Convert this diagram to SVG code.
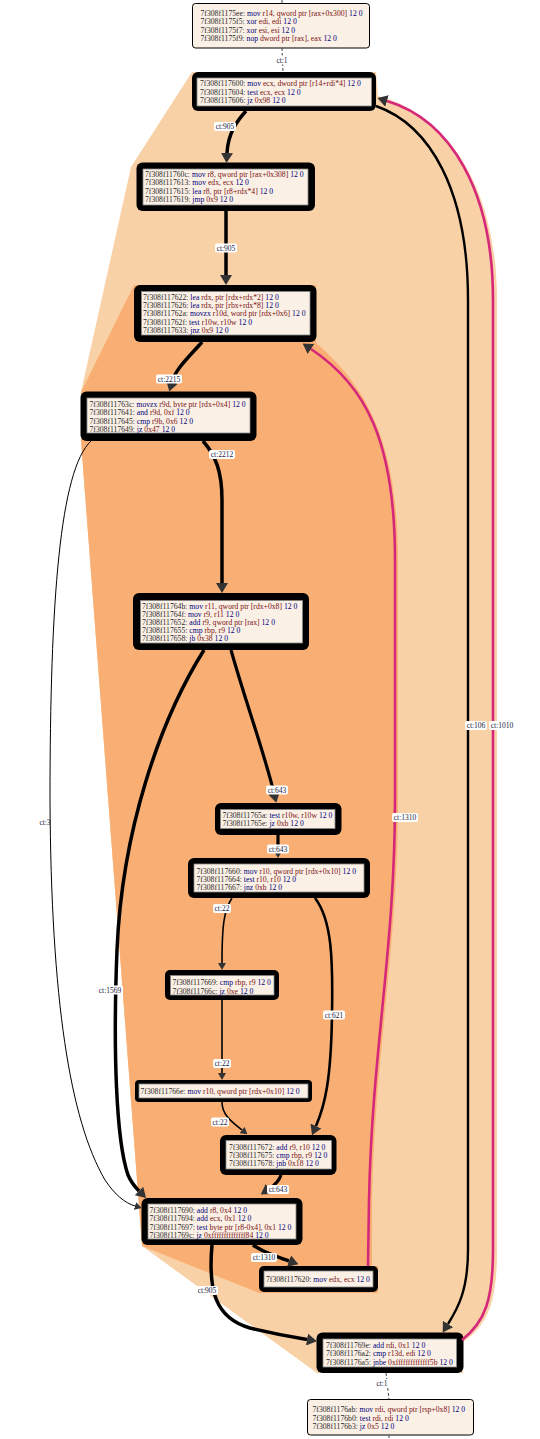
<svg xmlns="http://www.w3.org/2000/svg" width="540" height="1439" viewBox="0 0 540 1439">
<style>
text{font-family:"Liberation Serif","Times New Roman",serif;}
.t{font-size:7.7px;}
.a{fill:#2a2a2a;}
.m{fill:#00007a;}
.o{fill:#7a1010;}
.n{fill:#00007a;}
.thin{fill:#faf0e6;stroke:#000;stroke-width:1;}
.outer{fill:#000;}
.inner{fill:#faf0e6;stroke:#888;stroke-width:0.8;}
.e{fill:none;stroke:#000;}
.mg{fill:none;stroke:#d6287a;stroke-width:2.6;}
.dash{fill:none;stroke:#444;stroke-width:1;stroke-dasharray:3,2;}
.lb{fill:#fff;}
.lt{font-size:7.5px;fill:#1a1a40;text-anchor:middle;}
</style>
<defs>
<marker id="ab" markerUnits="userSpaceOnUse" markerWidth="10" markerHeight="12" refX="0" refY="6" orient="auto" viewBox="0 0 10 12"><path d="M0,0 L10,6 L0,12 z" fill="#333"/></marker>
<marker id="as" markerUnits="userSpaceOnUse" markerWidth="7" markerHeight="8" refX="0" refY="4" orient="auto" viewBox="0 0 7 8"><path d="M0,0 L7,4 L0,8 z" fill="#333"/></marker>
</defs>
<rect width="540" height="1439" fill="#fff"/>
<g id="clusters">
<path d="M 192,72 L 376,72 L 378,96 C 450,115 497,190 497,300 L 497,1250 C 497,1302 488,1325 463,1342 L 463,1373 L 317,1373 L 142,1246 L 81,441 L 81,392 L 131,167 Z" fill="#f9d1a6"/>
<path d="M 134,285 L 316,285 L 316,343 C 365,385 398,440 398,560 L 398,800 C 398,950 375,1050 372,1200 L 372,1266 L 378,1266 L 378,1293 L 259,1293 L 142,1246 L 81,441 L 81,392 Z" fill="#f9af74"/>
</g>
<g id="n1">
<rect class="thin" x="192.5" y="3.5" width="177" height="44.5" rx="3"/>
<text class="t" x="200.5" y="15.7"><tspan class="a">7f308f1175ee:</tspan> <tspan class="m">mov</tspan> <tspan class="o">r14, qword ptr [rax+0x300]</tspan> <tspan class="n">12 0</tspan></text>
<text class="t" x="200.5" y="24.1"><tspan class="a">7f308f1175f5:</tspan> <tspan class="m">xor</tspan> <tspan class="o">edi, edi</tspan> <tspan class="n">12 0</tspan></text>
<text class="t" x="200.5" y="32.5"><tspan class="a">7f308f1175f7:</tspan> <tspan class="m">xor</tspan> <tspan class="o">esi, esi</tspan> <tspan class="n">12 0</tspan></text>
<text class="t" x="200.5" y="40.9"><tspan class="a">7f308f1175f9:</tspan> <tspan class="m">nop</tspan> <tspan class="o">dword ptr [rax], eax</tspan> <tspan class="n">12 0</tspan></text>
</g>
<g id="n2">
<rect class="outer" x="192" y="72" width="184" height="39" rx="6"/>
<rect class="inner" x="197" y="78" width="174.5" height="28"/>
<text class="t" x="200" y="86.1"><tspan class="a">7f308f117600:</tspan> <tspan class="m">mov</tspan> <tspan class="o">ecx, dword ptr [r14+rdi*4]</tspan> <tspan class="n">12 0</tspan></text>
<text class="t" x="200" y="94.5"><tspan class="a">7f308f117604:</tspan> <tspan class="m">test</tspan> <tspan class="o">ecx, ecx</tspan> <tspan class="n">12 0</tspan></text>
<text class="t" x="200" y="102.8"><tspan class="a">7f308f117606:</tspan> <tspan class="m">jz</tspan> <tspan class="o">0x98</tspan> <tspan class="n">12 0</tspan></text>
</g>
<g id="n3">
<rect class="outer" x="136.5" y="162.5" width="178.5" height="48.5" rx="6"/>
<rect class="inner" x="143" y="169" width="165" height="36"/>
<text class="t" x="145" y="176.8"><tspan class="a">7f308f11760c:</tspan> <tspan class="m">mov</tspan> <tspan class="o">r8, qword ptr [rax+0x308]</tspan> <tspan class="n">12 0</tspan></text>
<text class="t" x="145" y="185.1"><tspan class="a">7f308f117613:</tspan> <tspan class="m">mov</tspan> <tspan class="o">edx, ecx</tspan> <tspan class="n">12 0</tspan></text>
<text class="t" x="145" y="193.5"><tspan class="a">7f308f117615:</tspan> <tspan class="m">lea</tspan> <tspan class="o">r8, ptr [r8+rdx*4]</tspan> <tspan class="n">12 0</tspan></text>
<text class="t" x="145" y="201.8"><tspan class="a">7f308f117619:</tspan> <tspan class="m">jmp</tspan> <tspan class="o">0x9</tspan> <tspan class="n">12 0</tspan></text>
</g>
<g id="n4">
<rect class="outer" x="134" y="285" width="182.5" height="57" rx="6"/>
<rect class="inner" x="141.5" y="291.5" width="168.5" height="43.5"/>
<text class="t" x="143" y="299.5"><tspan class="a">7f308f117622:</tspan> <tspan class="m">lea</tspan> <tspan class="o">rdx, ptr [rdx+rdx*2]</tspan> <tspan class="n">12 0</tspan></text>
<text class="t" x="143" y="307.8"><tspan class="a">7f308f117626:</tspan> <tspan class="m">lea</tspan> <tspan class="o">rdx, ptr [rbx+rdx*8]</tspan> <tspan class="n">12 0</tspan></text>
<text class="t" x="143" y="316.1"><tspan class="a">7f308f11762a:</tspan> <tspan class="m">movzx</tspan> <tspan class="o">r10d, word ptr [rdx+0x6]</tspan> <tspan class="n">12 0</tspan></text>
<text class="t" x="143" y="324.5"><tspan class="a">7f308f11762f:</tspan> <tspan class="m">test</tspan> <tspan class="o">r10w, r10w</tspan> <tspan class="n">12 0</tspan></text>
<text class="t" x="143" y="332.8"><tspan class="a">7f308f117633:</tspan> <tspan class="m">jnz</tspan> <tspan class="o">0x9</tspan> <tspan class="n">12 0</tspan></text>
</g>
<g id="n5">
<rect class="outer" x="80.5" y="391.5" width="176" height="49.5" rx="6"/>
<rect class="inner" x="87" y="398" width="163" height="35"/>
<text class="t" x="89.5" y="406.8"><tspan class="a">7f308f11763c:</tspan> <tspan class="m">movzx</tspan> <tspan class="o">r9d, byte ptr [rdx+0x4]</tspan> <tspan class="n">12 0</tspan></text>
<text class="t" x="89.5" y="415.1"><tspan class="a">7f308f117641:</tspan> <tspan class="m">and</tspan> <tspan class="o">r9d, 0xf</tspan> <tspan class="n">12 0</tspan></text>
<text class="t" x="89.5" y="423.5"><tspan class="a">7f308f117645:</tspan> <tspan class="m">cmp</tspan> <tspan class="o">r9b, 0x6</tspan> <tspan class="n">12 0</tspan></text>
<text class="t" x="89.5" y="431.8"><tspan class="a">7f308f117649:</tspan> <tspan class="m">jz</tspan> <tspan class="o">0x47</tspan> <tspan class="n">12 0</tspan></text>
</g>
<g id="n6">
<rect class="outer" x="133" y="593" width="176" height="57" rx="6"/>
<rect class="inner" x="140.5" y="600.5" width="162" height="42.5"/>
<text class="t" x="142" y="608.5"><tspan class="a">7f308f11764b:</tspan> <tspan class="m">mov</tspan> <tspan class="o">r11, qword ptr [rdx+0x8]</tspan> <tspan class="n">12 0</tspan></text>
<text class="t" x="142" y="616.5"><tspan class="a">7f308f11764f:</tspan> <tspan class="m">mov</tspan> <tspan class="o">r9, r11</tspan> <tspan class="n">12 0</tspan></text>
<text class="t" x="142" y="624.8"><tspan class="a">7f308f117652:</tspan> <tspan class="m">add</tspan> <tspan class="o">r9, qword ptr [rax]</tspan> <tspan class="n">12 0</tspan></text>
<text class="t" x="142" y="632.8"><tspan class="a">7f308f117655:</tspan> <tspan class="m">cmp</tspan> <tspan class="o">rbp, r9</tspan> <tspan class="n">12 0</tspan></text>
<text class="t" x="142" y="640.8"><tspan class="a">7f308f117658:</tspan> <tspan class="m">jb</tspan> <tspan class="o">0x38</tspan> <tspan class="n">12 0</tspan></text>
</g>
<g id="n7">
<rect class="outer" x="215" y="803" width="126.5" height="32" rx="6"/>
<rect class="inner" x="220.5" y="809.5" width="114.5" height="19"/>
<text class="t" x="222.5" y="817.8"><tspan class="a">7f308f11765a:</tspan> <tspan class="m">test</tspan> <tspan class="o">r10w, r10w</tspan> <tspan class="n">12 0</tspan></text>
<text class="t" x="222.5" y="826.1"><tspan class="a">7f308f11765e:</tspan> <tspan class="m">jz</tspan> <tspan class="o">0xb</tspan> <tspan class="n">12 0</tspan></text>
</g>
<g id="n8">
<rect class="outer" x="188" y="858" width="182" height="40" rx="6"/>
<rect class="inner" x="194" y="864" width="170" height="28"/>
<text class="t" x="196.5" y="873.8"><tspan class="a">7f308f117660:</tspan> <tspan class="m">mov</tspan> <tspan class="o">r10, qword ptr [rdx+0x10]</tspan> <tspan class="n">12 0</tspan></text>
<text class="t" x="196.5" y="882.1"><tspan class="a">7f308f117664:</tspan> <tspan class="m">test</tspan> <tspan class="o">r10, r10</tspan> <tspan class="n">12 0</tspan></text>
<text class="t" x="196.5" y="890.1"><tspan class="a">7f308f117667:</tspan> <tspan class="m">jnz</tspan> <tspan class="o">0xb</tspan> <tspan class="n">12 0</tspan></text>
</g>
<g id="n9">
<rect class="outer" x="165" y="970" width="114" height="30" rx="5"/>
<rect class="inner" x="170.5" y="975.5" width="103.5" height="19.5"/>
<text class="t" x="172.5" y="985.1"><tspan class="a">7f308f117669:</tspan> <tspan class="m">cmp</tspan> <tspan class="o">rbp, r9</tspan> <tspan class="n">12 0</tspan></text>
<text class="t" x="172.5" y="993.5"><tspan class="a">7f308f11766c:</tspan> <tspan class="m">jz</tspan> <tspan class="o">0xe</tspan> <tspan class="n">12 0</tspan></text>
</g>
<g id="n10">
<rect class="outer" x="135" y="1080" width="177" height="22" rx="4"/>
<rect class="inner" x="139" y="1084" width="169" height="14"/>
<text class="t" x="140.5" y="1094.3"><tspan class="a">7f308f11766e:</tspan> <tspan class="m">mov</tspan> <tspan class="o">r10, qword ptr [rdx+0x10]</tspan> <tspan class="n">12 0</tspan></text>
</g>
<g id="n11">
<rect class="outer" x="220" y="1135" width="116.5" height="40" rx="6"/>
<rect class="inner" x="226" y="1140.5" width="105.5" height="28.5"/>
<text class="t" x="229" y="1149.5"><tspan class="a">7f308f117672:</tspan> <tspan class="m">add</tspan> <tspan class="o">r9, r10</tspan> <tspan class="n">12 0</tspan></text>
<text class="t" x="229" y="1157.8"><tspan class="a">7f308f117675:</tspan> <tspan class="m">cmp</tspan> <tspan class="o">rbp, r9</tspan> <tspan class="n">12 0</tspan></text>
<text class="t" x="229" y="1166.1"><tspan class="a">7f308f117678:</tspan> <tspan class="m">jnb</tspan> <tspan class="o">0x18</tspan> <tspan class="n">12 0</tspan></text>
</g>
<g id="n12">
<rect class="outer" x="141.5" y="1198" width="161" height="47" rx="6"/>
<rect class="inner" x="148" y="1204" width="148" height="35"/>
<text class="t" x="149.5" y="1212.8"><tspan class="a">7f308f117690:</tspan> <tspan class="m">add</tspan> <tspan class="o">r8, 0x4</tspan> <tspan class="n">12 0</tspan></text>
<text class="t" x="149.5" y="1221.3"><tspan class="a">7f308f117694:</tspan> <tspan class="m">add</tspan> <tspan class="o">ecx, 0x1</tspan> <tspan class="n">12 0</tspan></text>
<text class="t" x="149.5" y="1229.6"><tspan class="a">7f308f117697:</tspan> <tspan class="m">test</tspan> <tspan class="o">byte ptr [r8-0x4], 0x1</tspan> <tspan class="n">12 0</tspan></text>
<text class="t" x="149.5" y="1237.9"><tspan class="a">7f308f11769c:</tspan> <tspan class="m">jz</tspan> <tspan class="o">0xffffffffffffff84</tspan> <tspan class="n">12 0</tspan></text>
</g>
<g id="n13">
<rect class="outer" x="259" y="1266" width="119" height="26" rx="5"/>
<rect class="inner" x="264" y="1271" width="109" height="16"/>
<text class="t" x="266" y="1281.8"><tspan class="a">7f308f117620:</tspan> <tspan class="m">mov</tspan> <tspan class="o">edx, ecx</tspan> <tspan class="n">12 0</tspan></text>
</g>
<g id="n14">
<rect class="outer" x="316.5" y="1332.5" width="147" height="40.5" rx="6"/>
<rect class="inner" x="323" y="1339" width="133.5" height="28"/>
<text class="t" x="326" y="1347.8"><tspan class="a">7f308f11769e:</tspan> <tspan class="m">add</tspan> <tspan class="o">rdi, 0x1</tspan> <tspan class="n">12 0</tspan></text>
<text class="t" x="326" y="1356.1"><tspan class="a">7f308f1176a2:</tspan> <tspan class="m">cmp</tspan> <tspan class="o">r13d, edi</tspan> <tspan class="n">12 0</tspan></text>
<text class="t" x="326" y="1364.5"><tspan class="a">7f308f1176a5:</tspan> <tspan class="m">jnbe</tspan> <tspan class="o">0xffffffffffffff5b</tspan> <tspan class="n">12 0</tspan></text>
</g>
<g id="n15">
<rect class="thin" x="307.5" y="1399.5" width="166" height="35.5" rx="3"/>
<text class="t" x="312.5" y="1412.1"><tspan class="a">7f308f1176ab:</tspan> <tspan class="m">mov</tspan> <tspan class="o">rdi, qword ptr [rsp+0x8]</tspan> <tspan class="n">12 0</tspan></text>
<text class="t" x="312.5" y="1420.5"><tspan class="a">7f308f1176b0:</tspan> <tspan class="m">test</tspan> <tspan class="o">rdi, rdi</tspan> <tspan class="n">12 0</tspan></text>
<text class="t" x="312.5" y="1428.8"><tspan class="a">7f308f1176b3:</tspan> <tspan class="m">jz</tspan> <tspan class="o">0x5</tspan> <tspan class="n">12 0</tspan></text>
</g>
<g id="connectors">
<path class="dash" d="M 282,0 L 282,3"/>
<path class="dash" d="M 282,48 L 283,72"/>
<path class="e" stroke-width="3.5" marker-end="url(#ab)" d="M 246,111 C 236,122 228,134 227,153"/>
<path class="e" stroke-width="3.5" marker-end="url(#ab)" d="M 226,211 L 226,275"/>
<path class="e" stroke-width="3.5" marker-end="url(#ab)" d="M 202,342 C 190,356 176,368 172,382"/>
<path class="e" stroke-width="3.5" marker-end="url(#ab)" d="M 203,441 C 216,456 222,472 222,500 L 222,583"/>
<path class="e" stroke-width="3.2" marker-end="url(#ab)" d="M 231,650 C 245,700 264,752 274,793"/>
<path class="e" stroke-width="3.2" marker-end="url(#ab)" d="M 278,835 L 278,848"/>
<path class="e" stroke-width="1.6" marker-end="url(#as)" d="M 232,898 C 224,910 222,925 222,963"/>
<path class="e" stroke-width="2.6" marker-end="url(#ab)" d="M 315,898 C 332,920 333,960 332,1015 C 331,1080 325,1105 316,1126"/>
<path class="e" stroke-width="1.6" marker-end="url(#as)" d="M 222,1000 L 222,1073"/>
<path class="e" stroke-width="1.6" marker-end="url(#as)" d="M 222,1102 C 222,1115 232,1122 242,1130"/>
<path class="e" stroke-width="3.2" marker-end="url(#ab)" d="M 281,1175 C 279,1181 275,1185 269,1189"/>
<path class="e" stroke-width="3.5" marker-end="url(#ab)" d="M 253,1245 C 262,1252 275,1256 289,1261"/>
<path class="e" stroke-width="3.5" marker-end="url(#ab)" d="M 212,1245 C 208,1290 215,1318 250,1328 C 275,1334 292,1337 307,1339.5"/>
<path class="dash" d="M 386,1373 L 389,1399"/>
<path class="dash" d="M 389,1435 L 389,1439"/>
<path class="e" stroke-width="2.4" marker-end="url(#ab)" d="M 376,106 C 430,125 468,190 468,300 L 468,1250 C 468,1290 458,1308 448,1324"/>
<path class="mg" marker-end="url(#ab)" d="M 462,1340 C 485,1322 493,1300 493,1250 L 493,300 C 493,190 450,120 387,101"/>
<path class="mg" marker-end="url(#ab)" d="M 368,1266 L 369,1200 C 372,1050 395,950 395,800 L 395,560 C 395,440 365,385 311,349"/>
<path class="e" stroke-width="1" marker-end="url(#as)" d="M 91,441 C 60,470 50,600 50,800 C 51,1000 70,1120 105,1180 C 115,1195 125,1203 135,1206"/>
<path class="e" stroke-width="3.5" marker-end="url(#ab)" d="M 204,650 C 160,720 122,830 117,950 C 113,1050 116,1140 128,1175 C 131,1182 134,1186 139,1191"/>
</g>
<g id="labels">
<rect class="lb" x="274.5" y="55.5" width="15" height="9" rx="2"/><text class="lt" x="282" y="62.5">ct:1</text>
<rect class="lb" x="214" y="122" width="22" height="9" rx="2"/><text class="lt" x="225" y="129">ct:905</text>
<rect class="lb" x="215" y="243.5" width="22" height="9" rx="2"/><text class="lt" x="226" y="250.5">ct:905</text>
<rect class="lb" x="156" y="374.5" width="26" height="9" rx="2"/><text class="lt" x="169" y="381.5">ct:2215</text>
<rect class="lb" x="209" y="450" width="26" height="9" rx="2"/><text class="lt" x="222" y="457">ct:2212</text>
<rect class="lb" x="266" y="785.5" width="22" height="9" rx="2"/><text class="lt" x="277" y="792.5">ct:643</text>
<rect class="lb" x="267" y="844.5" width="22" height="9" rx="2"/><text class="lt" x="278" y="851.5">ct:643</text>
<rect class="lb" x="213" y="904" width="18" height="9" rx="2"/><text class="lt" x="222" y="911">ct:22</text>
<rect class="lb" x="323" y="1010.5" width="22" height="9" rx="2"/><text class="lt" x="334" y="1017.5">ct:621</text>
<rect class="lb" x="213" y="1059" width="18" height="9" rx="2"/><text class="lt" x="222" y="1066">ct:22</text>
<rect class="lb" x="211" y="1117.5" width="18" height="9" rx="2"/><text class="lt" x="220" y="1124.5">ct:22</text>
<rect class="lb" x="267" y="1185" width="22" height="9" rx="2"/><text class="lt" x="278" y="1192">ct:643</text>
<rect class="lb" x="251" y="1253" width="26" height="9" rx="2"/><text class="lt" x="264" y="1260">ct:1310</text>
<rect class="lb" x="196" y="1286" width="22" height="9" rx="2"/><text class="lt" x="207" y="1293">ct:905</text>
<rect class="lb" x="374.5" y="1379" width="15" height="9" rx="2"/><text class="lt" x="382" y="1386">ct:1</text>
<text class="lt" x="45" y="824.5">ct:3</text>
<rect class="lb" x="97" y="985.5" width="26" height="9" rx="2"/><text class="lt" x="110" y="992.5">ct:1569</text>
<rect class="lb" x="392" y="813" width="26" height="9" rx="2"/><text class="lt" x="405" y="820">ct:1310</text>
<rect class="lb" x="465" y="721" width="22" height="9" rx="2"/><text class="lt" x="476" y="728">ct:106</text>
<rect class="lb" x="489" y="721" width="26" height="9" rx="2"/><text class="lt" x="502" y="728">ct:1010</text>
</g>
</svg>
